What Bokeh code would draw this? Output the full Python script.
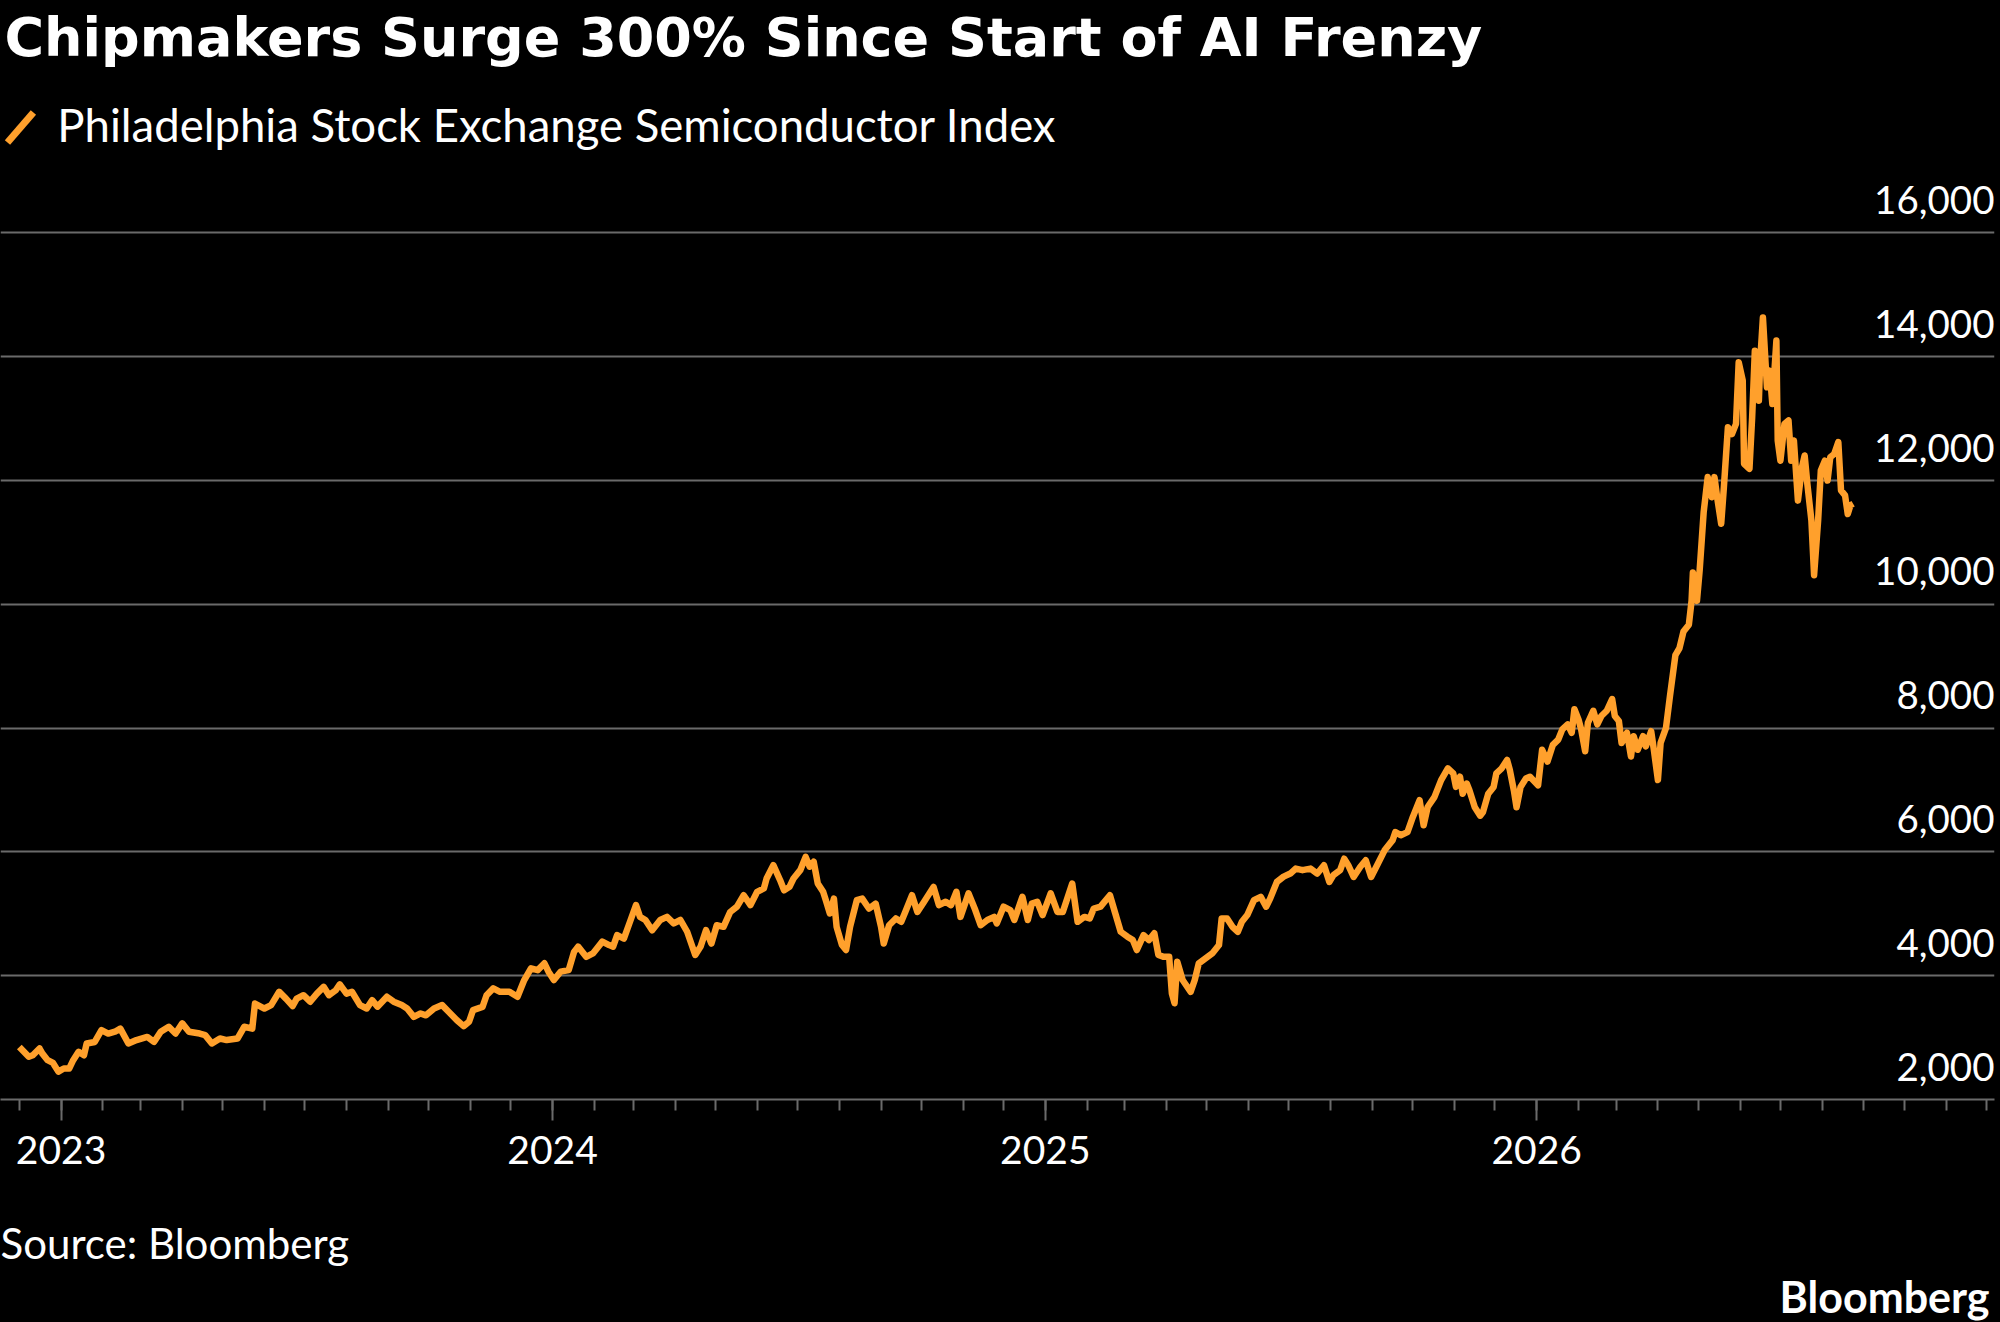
import pandas as pd
from bokeh.core.properties import value
from bokeh.embed import file_html
from bokeh.layouts import column
from bokeh.models import (ColumnDataSource, DatetimeTickFormatter, FixedTicker,
                          GlobalInlineStyleSheet, Range1d)
from bokeh.plotting import figure
from bokeh.resources import INLINE

chart_title = "Chipmakers Surge 300% Since Start of AI Frenzy"
series_name = "Philadelphia Stock Exchange Semiconductor Index"
source_note = "Source: Bloomberg"
brand = "Bloomberg"

# index level, dated as days after 2023-01-01
base_date = "2023-01-01"
days_since_base = [
    -31, -24, -21, -16, -14, -10, -6, -2, 2, 6, 9, 13, 17, 19, 25, 30, 35, 40, 44, 50,
    56, 64, 69, 74, 80, 85, 90, 95, 103, 107, 112, 118, 123, 131, 136, 142, 144, 151, 156, 162,
    167, 172, 175, 180, 185, 190, 195, 199, 204, 207, 212, 216, 222, 227, 231, 235, 242, 247, 253, 257,
    262, 267, 271, 277, 283, 288, 294, 299, 303, 306, 313, 316, 321, 326,
    333, 339, 344, 349, 354, 359, 362, 366, 371, 377, 381, 384, 390, 395, 402, 407, 410, 413, 418, 423,
    427, 430, 434, 439, 445, 450, 455, 460, 465, 471, 475, 479, 483, 487, 492, 497, 502, 507, 512, 517,
    522, 524, 529, 534, 537, 541, 544, 549, 553, 556, 559, 562, 566, 568, 571, 574, 576, 580, 583, 586,
    591, 595, 600, 605, 609, 611, 615, 620, 624, 627, 632, 636, 641, 648, 652, 657, 661, 665, 668,
    674, 679, 683, 688, 693, 695, 700, 705, 708, 714, 718, 721, 725, 729, 735, 740, 744, 751, 755, 760,
    764, 767, 772, 779, 783, 787, 792, 796, 799, 804, 808, 812, 815, 819, 823, 825, 827, 829, 833, 839,
    842, 845, 850, 855, 860, 862, 866, 870, 874, 877, 881, 886, 891, 895, 898, 903, 908, 913, 917, 922,
    928, 933, 938, 942, 945, 950, 953, 956, 960, 965, 969, 973, 978, 983, 989, 991, 995, 1000, 1004, 1009,
    1012, 1015, 1020,
    1025, 1030, 1034, 1036, 1039, 1041, 1044, 1046, 1050, 1054, 1056, 1060, 1064, 1066, 1070, 1074, 1076, 1079,
    1081, 1084, 1088, 1091, 1097, 1100, 1104, 1108, 1112, 1115, 1119, 1122, 1124, 1127, 1129, 1132, 1134, 1138,
    1141, 1144, 1148, 1152, 1154, 1157, 1159, 1163, 1166, 1168, 1171, 1175, 1177, 1181, 1183, 1186, 1188, 1192,
    1195, 1199, 1202, 1205, 1209, 1211, 1212, 1215, 1217,
    1220, 1223, 1226, 1228, 1230, 1233, 1235, 1238, 1241, 1244, 1246, 1249, 1250, 1254, 1256, 1258, 1261, 1262,
    1264, 1267, 1269, 1271, 1274, 1275, 1277, 1280, 1283, 1285, 1287, 1290, 1293, 1295, 1297, 1300, 1302, 1305,
    1307, 1310, 1312, 1314, 1317, 1320, 1322, 1325, 1327, 1329, 1331,
]
index_level = [
    2850, 2690, 2715, 2825, 2745, 2635, 2590, 2450, 2500, 2500, 2635, 2770, 2715, 2905, 2930, 3120, 3065, 3095, 3145, 2905,
    2960, 3010, 2930, 3095, 3175, 3065, 3230, 3095, 3065, 3040, 2905, 2985, 2960, 2985, 3175, 3145, 3550, 3470, 3525, 3740,
    3630, 3510, 3630, 3685, 3580, 3710, 3820, 3685, 3765, 3860, 3710, 3740, 3525, 3470, 3605, 3500, 3660, 3580, 3525, 3470,
    3335, 3390, 3360, 3470, 3525, 3415, 3280, 3185, 3255, 3445, 3495, 3685, 3795, 3740,
    3740, 3660, 3930, 4120, 4090, 4200, 4065, 3930, 4065, 4090, 4385, 4470, 4305, 4360, 4550, 4495, 4470, 4655, 4600, 4900,
    5140, 4950, 4900, 4735, 4900, 4950, 4845, 4900, 4710, 4335, 4470, 4735, 4520, 4815, 4790, 5030, 5115, 5300, 5140, 5355,
    5410, 5570, 5785, 5545, 5380, 5435, 5570, 5705, 5920, 5760, 5840, 5490, 5355, 5220, 5005, 5245, 4790, 4495, 4415, 4790,
    5220, 5245, 5085, 5165, 4790, 4520, 4815, 4925, 4870, 5030, 5300, 5030, 5195, 5435, 5140, 5195, 5140, 5355, 4950,
    5330, 5060, 4815, 4900, 4950, 4845, 5115, 5060, 4900, 5275, 4900, 5165, 5195, 4980, 5330, 5030, 5030, 5490, 4870, 4950,
    4925, 5085, 5115, 5300, 5005, 4710, 4630, 4575, 4415, 4655, 4575, 4685, 4335, 4305, 4305, 3715, 3555, 4225, 3930, 3740,
    3930, 4200, 4280, 4360, 4495, 4925, 4925, 4790, 4710, 4870, 4980, 5220, 5275, 5115, 5245, 5515, 5600, 5650, 5730, 5705,
    5730, 5650, 5785, 5515, 5625, 5705, 5890, 5785, 5595, 5760, 5865, 5595, 5810, 6025, 6190, 6320, 6270, 6320, 6565, 6835,
    6430, 6725, 6885,
    7160, 7350, 7270, 7050, 7215, 6940, 7105, 6995, 6720, 6585, 6640, 6940, 7050, 7270, 7350, 7485, 7325, 6995,
    6720, 7050, 7185, 7215, 7075, 7650, 7460, 7730, 7815, 7980, 8060, 7925, 8305, 8140, 7980, 7625, 8085, 8280,
    8060, 8195, 8280, 8470, 8195, 8115, 7760, 7925, 7540, 7870, 7650, 7870, 7705, 7950, 7650, 7160, 7760, 8005,
    8525, 9180, 9290, 9560, 9670, 10055, 10515, 10055, 10545,
    11490, 12055, 11730, 12055, 11730, 11300, 11890, 12860, 12750, 12915, 13910, 13615, 12270, 12190, 13020, 14095, 13290, 13935,
    14635, 13505, 13775, 13235, 14260, 12645, 12320, 12915, 12970, 12320, 12645, 11675, 12215, 12405, 11945, 11355, 10470, 11355,
    12160, 12320, 12000, 12375, 12430, 12620, 11840, 11760, 11460, 11600, 11625,
]

y_ticks = [2000, 4000, 6000, 8000, 10000, 12000, 14000, 16000]
y_tick_labels = ["2,000", "4,000", "6,000", "8,000", "10,000", "12,000", "14,000", "16,000"]
year_ticks = ["2023-01-01", "2024-01-01", "2025-01-01", "2026-01-01"]
x_start, x_end = "2022-11-17", "2026-12-07"

ORANGE = "#FFA02C"
GREY = "#6a6a6a"
W = 2000


def ms(ts):
    return pd.Timestamp(ts).value / 1e6


def blank(height):
    # a black strip with no axes, y counted down from the top in pixels
    p = figure(width=W, height=height, x_range=Range1d(0, W), y_range=Range1d(height, 0),
               x_axis_location=None, y_axis_location=None,
               toolbar_location=None, output_backend="svg", min_border=0)
    p.grid.visible = False
    p.outline_line_color = None
    p.background_fill_color = "black"
    p.border_fill_color = "black"
    return p


header = blank(158)
header.text(x=[4], y=[37], text=[chart_title], text_color="white",
            text_font=value("DejaVu Sans"), text_font_style="bold", text_font_size="54px",
            text_baseline="alphabetic")
header.segment(x0=[7], y0=[142], x1=[33], y1=[112], line_color=ORANGE, line_width=7)
header.text(x=[57], y=[124], text=[series_name], text_color="white",
            text_font=value("Lato"), text_font_size="45.5px", text_baseline="alphabetic")

dates = pd.Timestamp(base_date) + pd.to_timedelta(days_since_base, unit="D")
src = ColumnDataSource(data=dict(date=dates, level=index_level))

p = figure(width=W, height=1032, x_axis_type="datetime",
           x_range=Range1d(ms(x_start), ms(x_end)), y_range=Range1d(2000, 17202),
           y_axis_location=None, toolbar_location=None, output_backend="svg",
           min_border_left=0, min_border_right=6, min_border_top=0, min_border_bottom=91)
p.background_fill_color = "black"
p.border_fill_color = "black"
p.outline_line_color = None

p.xgrid.visible = False
p.ygrid.ticker = FixedTicker(ticks=y_ticks[1:])
p.ygrid.grid_line_color = GREY
p.ygrid.grid_line_width = 2

months = pd.date_range("2022-12-01", "2026-12-01", freq="MS")
p.xaxis.ticker = FixedTicker(ticks=[ms(d) for d in year_ticks], minor_ticks=[ms(d) for d in months])
p.xaxis.formatter = DatetimeTickFormatter(years="%Y", months="%Y", days="%Y")
p.xaxis.axis_line_color = GREY
p.xaxis.axis_line_width = 2
p.xaxis.major_tick_line_color = GREY
p.xaxis.major_tick_line_width = 2
p.xaxis.major_tick_in = 0
p.xaxis.major_tick_out = 21
p.xaxis.minor_tick_line_color = GREY
p.xaxis.minor_tick_line_width = 2
p.xaxis.minor_tick_in = 0
p.xaxis.minor_tick_out = 11
p.xaxis.major_label_text_color = "white"
p.xaxis.major_label_text_font = "Lato"
p.xaxis.major_label_text_font_size = "39px"
p.xaxis.major_label_standoff = 15

# value labels sit above their gridlines at the right edge
p.text(x=[ms(x_end)] * len(y_ticks), y=y_ticks, text=y_tick_labels, text_color="white",
       text_font=value("Lato"), text_font_size="38.5px", text_align="right",
       text_baseline="alphabetic", y_offset=-33)

p.line("date", "level", source=src, line_color=ORANGE, line_width=6.5, line_join="round")

footer = blank(132)
footer.text(x=[0], y=[52], text=[source_note], text_color="white",
            text_font=value("Lato"), text_font_size="42px", text_baseline="alphabetic")
footer.text(x=[1995], y=[106], text=[brand], text_color="white", text_align="right",
            text_font=value("Lato"), text_font_style="bold", text_font_size="43px",
            text_baseline="alphabetic")

page_css = GlobalInlineStyleSheet(css="html, body { background-color: #000000; margin: 0; }")
layout = column(header, p, footer, spacing=0, styles={"background-color": "#000000"},
                stylesheets=[page_css])
html = file_html(layout, INLINE, "Chipmakers")
html = html.replace("<body>", '<body style="background-color: black;">', 1)
open("out.html", "w").write(html)
